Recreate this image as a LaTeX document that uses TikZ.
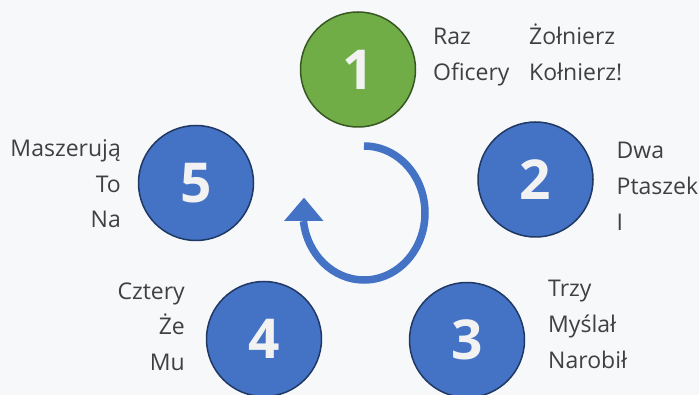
\documentclass[tikz,border=0pt]{standalone}
\usepackage{fontspec}
\setmainfont{Open Sans}
\definecolor{bgc}{HTML}{F6F8FA}
\definecolor{blueFill}{HTML}{4472C4}
\definecolor{blueEdge}{HTML}{203864}
\definecolor{greenFill}{HTML}{70AD47}
\definecolor{greenEdge}{HTML}{385723}
\definecolor{labelText}{HTML}{404040}
\definecolor{numText}{HTML}{F2F2F2}
\tikzset{
  stage/.style={circle, minimum size=115pt, inner sep=0pt, line width=1.5pt,
    draw=blueEdge, fill=blueFill, text=numText,
    font=\fontsize{55}{55}\selectfont\bfseries},
  first/.style={stage, draw=greenEdge, fill=greenFill},
  lbl/.style={inner sep=0pt, text=labelText, font=\fontsize{23}{28}\selectfont},
  lblL/.style={lbl, anchor=base west},
  lblR/.style={lbl, anchor=base east},
  cycle arrow/.style={draw=blueFill, line width=7.5pt, line cap=butt}
}
\begin{document}
\begin{tikzpicture}[x=1pt, y=-1pt]
  \fill[bgc] (0,0) rectangle (699,395);
  \useasboundingbox (0,0) rectangle (699,395);

  % circular arrow in the middle
  \draw[cycle arrow] (364,146) arc[start angle=270, end angle=533, x radius=61, y radius=67];
  \fill[blueFill] (304,197.7) -- (284,221) -- (323.5,221) -- cycle;

  % the five stages
  \node[first] (c1) at (358,69.5) {1};
  \node[stage] (c2) at (535.5,179.5) {2};
  \node[stage] (c3) at (467,340) {3};
  \node[stage] (c4) at (264,339) {4};
  \node[stage] (c5) at (196,183) {5};

  % labels of stage 1
  \node[lblL] (l1a) at (433,45) {Raz};
  \node[lblL] (l1b) at (433,80.5) {Oficery};
  \node[lblL] (l1c) at (529,45) {Żołnierz};
  \node[lblL] (l1d) at (529,80.5) {Kołnierz!};

  % labels of stage 2
  \node[lblL] (l2a) at (616.5,159) {Dwa};
  \node[lblL] (l2b) at (616.5,195) {Ptaszek};
  \node[lblL] (l2c) at (616.5,230.5) {I};

  % labels of stage 3
  \node[lblL] (l3a) at (548,297) {Trzy};
  \node[lblL] (l3b) at (548,333) {Myślał};
  \node[lblL] (l3c) at (548,368.5) {Narobił};

  % labels of stage 4
  \node[lblR] (l4a) at (185,299.5) {Cztery};
  \node[lblR] (l4b) at (185,335) {Że};
  \node[lblR] (l4c) at (185,370.5) {Mu};

  % labels of stage 5
  \node[lblR] (l5a) at (121,157) {Maszerują};
  \node[lblR] (l5b) at (121,192.5) {To};
  \node[lblR] (l5c) at (121,228) {Na};
\end{tikzpicture}
\end{document}
